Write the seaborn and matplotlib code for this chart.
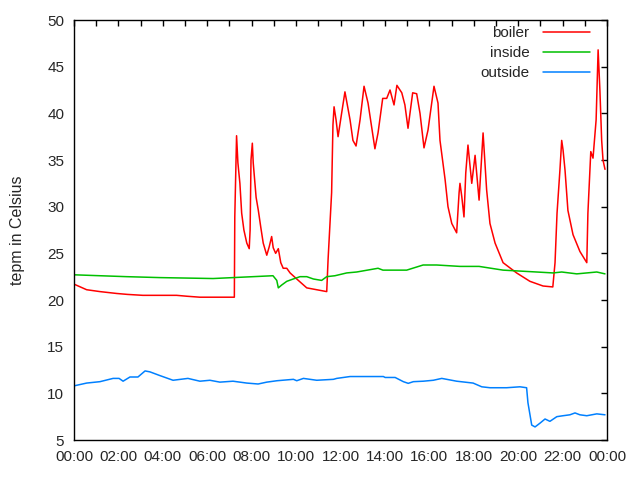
import pandas as pd
import matplotlib
matplotlib.use("Agg")
import matplotlib.pyplot as plt
import seaborn as sns

# hours since midnight, temperature in Celsius
boiler_h = [0.0, 0.57, 1.17, 1.92, 2.4, 3.1, 4.62, 5.1, 5.67, 7.16, 7.22, 7.24, 7.32, 7.38,
            7.47, 7.55, 7.65, 7.78, 7.89, 7.93, 7.97, 8.03, 8.07, 8.20, 8.30, 8.41, 8.52,
            8.68, 8.79, 8.90, 8.97, 9.08, 9.20, 9.31, 9.42, 9.58, 9.73, 10.03, 10.48, 10.93,
            11.38, 11.44, 11.60, 11.66, 11.71, 11.80, 11.89, 12.05, 12.20, 12.43, 12.56, 12.70,
            12.88, 13.06, 13.24, 13.55, 13.69, 13.90, 14.08, 14.23, 14.41, 14.54, 14.76, 14.90,
            15.04, 15.25, 15.43, 15.58, 15.76, 15.94, 16.21, 16.39, 16.48, 16.71, 16.84, 17.01,
            17.23, 17.34, 17.38, 17.46, 17.56, 17.64, 17.74, 17.91, 18.06, 18.24, 18.42, 18.58,
            18.73, 18.96, 19.32, 19.93, 20.53, 21.12, 21.56, 21.66, 21.75, 21.88, 21.96, 22.02,
            22.11, 22.24, 22.47, 22.78, 23.09, 23.14, 23.27, 23.37, 23.51, 23.60, 23.68, 23.76,
            23.82, 23.91]
boiler_t = [21.7, 21.1, 20.9, 20.7, 20.6, 20.5, 20.5, 20.4, 20.3, 20.3, 20.3, 28.9, 37.6, 34.7,
            32.5, 29.3, 27.5, 26.1, 25.5, 27.5, 35.0, 36.8, 34.7, 31.0, 29.6, 27.8, 26.1,
            24.8, 25.7, 26.8, 25.6, 25.0, 25.5, 24.0, 23.4, 23.4, 22.9, 22.25, 21.3, 21.1,
            20.9, 24.3, 31.5, 38.75, 40.7, 39.3, 37.5, 40.0, 42.3, 39.3, 37.1, 36.5,
            39.3, 42.9, 41.1, 36.2, 37.9, 41.6, 41.6, 42.5, 40.9, 43.0, 42.2, 40.9,
            38.4, 42.2, 42.1, 40.0, 36.3, 38.2, 42.9, 41.1, 37.1, 32.9, 30.0, 28.2,
            27.2, 31.5, 32.5, 31.1, 28.9, 33.6, 36.6, 32.5, 35.5, 30.7, 37.9, 31.8,
            28.2, 26.1, 24.0, 22.9, 22.0, 21.5, 21.4, 24.0, 29.3, 33.9, 37.1, 36.1,
            33.9, 29.6, 27.0, 25.2, 24.0, 29.3, 35.9, 35.2, 39.3, 46.8, 42.5, 37.1,
            35.0, 34.0]

inside_h = [0.0, 1.17, 2.37, 3.87, 6.26, 7.16, 8.96, 9.13, 9.20, 9.35, 9.58, 9.87, 10.18,
            10.48, 10.78, 11.15, 11.38, 11.75, 12.28, 12.73, 13.69, 13.91, 14.98, 15.72,
            16.33, 17.38, 18.24, 19.32, 20.83, 21.57, 21.96, 22.64, 23.54, 23.91]
inside_t = [22.7, 22.6, 22.5, 22.4, 22.3, 22.4, 22.6, 22.1, 21.3, 21.6, 22.0, 22.25, 22.5,
            22.5, 22.25, 22.1, 22.5, 22.6, 22.9, 23.0, 23.4, 23.2, 23.2, 23.75,
            23.75, 23.6, 23.6, 23.2, 23.0, 22.9, 23.0, 22.8, 23.0, 22.8]

outside_h = [0.0, 0.57, 1.17, 1.76, 2.03, 2.21, 2.52, 2.88, 3.20, 3.42, 3.87, 4.46, 5.13,
             5.67, 6.12, 6.57, 7.16, 7.78, 8.29, 8.68, 9.14, 9.88, 10.03, 10.33, 10.93,
             11.68, 11.83, 12.43, 13.93, 14.01, 14.46, 14.83, 15.05, 15.28, 15.73, 16.18,
             16.56, 17.23, 17.97, 18.36, 18.73, 19.48, 20.08, 20.38, 20.44, 20.61, 20.76,
             20.98, 21.21, 21.43, 21.74, 22.02, 22.33, 22.56, 22.78, 23.09, 23.54, 23.91]
outside_t = [10.8, 11.1, 11.25, 11.6, 11.6, 11.3, 11.75, 11.75, 12.4, 12.3, 11.9, 11.4, 11.6,
             11.3, 11.4, 11.2, 11.3, 11.1, 11.0, 11.2, 11.35, 11.5, 11.35, 11.6, 11.4,
             11.5, 11.6, 11.8, 11.8, 11.7, 11.7, 11.25, 11.07, 11.25, 11.3, 11.4,
             11.6, 11.3, 11.1, 10.7, 10.6, 10.6, 10.7, 10.6, 9.0, 6.6, 6.4,
             6.8, 7.25, 7.0, 7.5, 7.6, 7.7, 7.9, 7.7, 7.6, 7.8, 7.7]

hour_ticks = list(range(0, 25))
hour_labels = [f"{h % 24:02d}:00" if h % 2 == 0 else "" for h in hour_ticks]

sns.set_style("white")
plt.rcParams['font.family'] = ['Liberation Sans', 'DejaVu Sans']

fig = plt.figure(figsize=(6.4, 4.8), dpi=100)
ax = fig.add_axes([74 / 640, 40 / 480, 533 / 640, 420 / 480])

series = [
    ("boiler", boiler_h, boiler_t, "#ff0000"),
    ("inside", inside_h, inside_t, "#00c000"),
    ("outside", outside_h, outside_t, "#0080ff"),
]
for name, hh, tt, col in series:
    df = pd.DataFrame({"hour": hh, "temp": tt})
    sns.lineplot(data=df, x="hour", y="temp", ax=ax, color=col, lw=1.1, label=name)

ax.set_xlim(0, 24)
ax.set_ylim(5, 50)
ax.set_xticks(hour_ticks)
ax.set_xticklabels(hour_labels, fontsize=11)
ax.set_yticks(range(5, 51, 5))
ax.tick_params(axis="y", labelsize=11)
ax.tick_params(direction="in", top=True, right=True, length=4, width=1, pad=7, color="black")
ax.set_xlabel("")
ax.set_ylabel("tepm in Celsius", fontsize=11.5, labelpad=16)
for s in ax.spines.values():
    s.set_color("black")
    s.set_linewidth(1)

leg = ax.legend(loc="upper right", bbox_to_anchor=(0.968, 0.985), frameon=False,
                markerfirst=False, borderpad=0, borderaxespad=0, fontsize=11,
                handlelength=3.1, handletextpad=0.85, labelspacing=0.38)
for vp in leg._legend_handle_box.get_children():
    vp.align = "right"

plt.savefig("out.png", dpi=100)
plt.close()
